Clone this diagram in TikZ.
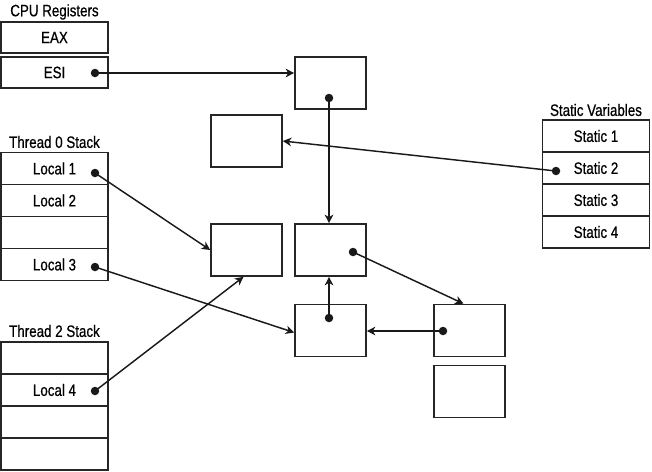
\documentclass[tikz,border=0pt]{standalone}
\usepackage{fontspec}
\setmainfont{Liberation Sans}[FakeStretch=0.81,FakeBold=0.6]
\usetikzlibrary{arrows.meta}
\begin{document}
\begin{tikzpicture}[x=1pt,y=-1pt,
  cell/.style={draw=black!85,line width=1.6pt,minimum width=107pt,minimum height=32pt,inner sep=0pt,font=\fontsize{16.5}{18}\selectfont},
  blk/.style={draw=black!85,line width=1.6pt,minimum width=71pt,minimum height=52pt,inner sep=0pt},
  ttl/.style={font=\fontsize{16.5}{18}\selectfont,inner sep=0pt},
  dot/.style={circle,fill=black!90,inner sep=0pt,minimum size=8.5pt},
  arr/.style={line width=1.45pt,draw=black!90,-{Stealth[length=8.5pt,width=8.5pt,inset=2.5pt]}}]
\useasboundingbox (0,0) rectangle (652,471);
% CPU registers
\node[ttl] (cputtl) at (54.5,12) {CPU Registers};
\node[cell,minimum height=31pt] (eax) at (54.5,37.5) {EAX};
\node[cell,minimum height=31pt] (esi) at (54.5,72.5) {ESI};
% Thread 0 stack
\node[ttl] (t0ttl) at (54.5,142) {Thread 0 Stack};
\node[cell] (l1) at (54.5,168.5) {Local 1};
\node[cell] (l2) at (54.5,200.5) {Local 2};
\node[cell] (t0e) at (54.5,232.5) {};
\node[cell] (l3) at (54.5,264.5) {Local 3};
% Thread 2 stack
\node[ttl] (t2ttl) at (54.5,331) {Thread 2 Stack};
\node[cell] (t2a) at (54.5,358) {};
\node[cell] (l4) at (54.5,390) {Local 4};
\node[cell] (t2c) at (54.5,422) {};
\node[cell] (t2d) at (54.5,454) {};
% Static variables
\node[ttl] (sttl) at (596,110) {Static Variables};
\node[cell] (s1) at (596,136) {Static 1};
\node[cell] (s2) at (596,168) {Static 2};
\node[cell] (s3) at (596,200) {Static 3};
\node[cell] (s4) at (596,232) {Static 4};
% heap blocks
\node[blk] (top) at (330.5,83) {};
\node[blk] (lft) at (246.5,141) {};
\node[blk] (A) at (246.5,250) {};
\node[blk] (B) at (330.5,250) {};
\node[blk] (C) at (330.5,330.5) {};
\node[blk] (D) at (469.5,330.5) {};
\node[blk] (E) at (469.5,391.5) {};
% dots
\node[dot] (esidot) at (95,73) {};
\node[dot] (l1dot) at (95,173) {};
\node[dot] (l3dot) at (95,267) {};
\node[dot] (l4dot) at (95,391) {};
\node[dot] (s2dot) at (556,171) {};
\node[dot] (topdot) at (329,98) {};
\node[dot] (Bdot) at (353,252) {};
\node[dot] (Cdot) at (329,318) {};
\node[dot] (Ddot) at (443,331) {};
% arrows
\draw[arr] (esidot.center) -- (esidot.center -| top.west);
\draw[arr] (topdot.center) -- (topdot.center |- B.north);
\draw[arr] (s2dot.center) -- (lft.east);
\draw[arr] (l1dot.center) -- (A.west);
\draw[arr] (l3dot.center) -- ([yshift=-2pt]C.west);
\draw[arr] (l4dot.center) -- ([xshift=-3pt]A.south);
\draw[arr] (Bdot.center) -- ([xshift=-6pt]D.north);
\draw[arr] (Cdot.center) -- (Cdot.center |- B.south);
\draw[arr] (Ddot.center) -- (Ddot.center -| C.east);
\end{tikzpicture}
\end{document}
